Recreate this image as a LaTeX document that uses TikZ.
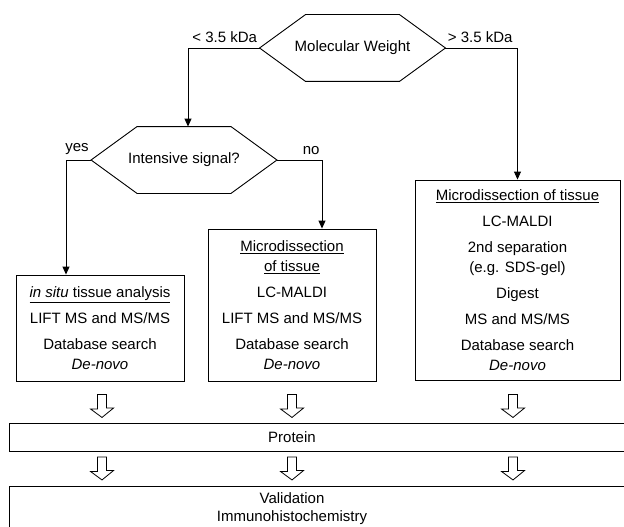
\documentclass[tikz,border=0pt]{standalone}
\usepackage{fontspec}
\setmainfont{Liberation Sans}
\usepackage{tikz}
\usetikzlibrary{arrows.meta,positioning}

\begin{document}
\begin{tikzpicture}[
      x=1pt, y=-1pt,
      font=\fontsize{15}{20}\selectfont,
      line width=0.9pt,
      >={Triangle[length=8pt,width=7pt]},
      hexa/.style={minimum width=185pt, minimum height=66pt, inner sep=0pt},
      box/.style={draw, align=center, inner sep=0pt},
      lbl/.style={inner xsep=2pt, inner ysep=5pt},
      hollow/.style={minimum width=23pt, minimum height=22pt, inner sep=0pt}
    ]
    \useasboundingbox (0,0) rectangle (624,527);

    % decisions
    \node[hexa] (mw) at (352.5,48) {Molecular Weight};
    \node[hexa] (sig) at (184,160) {Intensive signal?};
    \foreach \n in {mw,sig}
      \draw (\n.west) -- ([xshift=46pt]\n.north west) -- ([xshift=-46pt]\n.north east)
        -- (\n.east) -- ([xshift=-46pt]\n.south east) -- ([xshift=46pt]\n.south west) -- cycle;

    % work flows
    \node[box, minimum width=168pt, minimum height=106pt] (insitu) at (100,328)
      {\underline{\textit{in situ} tissue analysis}\\[6pt]
       LIFT MS and MS/MS\\[6pt]
       Database search\\\textit{De-novo}};
    \node[box, minimum width=168pt, minimum height=152pt] (micro) at (292,305)
      {\underline{Microdissection}\\\underline{of tissue}\\[6pt]
       LC-MALDI\\[6pt]
       LIFT MS and MS/MS\\[6pt]
       Database search\\\textit{De-novo}};
    \node[box, minimum width=205pt, minimum height=200pt] (sep) at (517.5,280)
      {\underline{Microdissection of tissue}\\[6pt]
       LC-MALDI\\[6pt]
       2nd separation\\(e.g. SDS-gel)\\[6pt]
       Digest\\[6pt]
       MS and MS/MS\\[6pt]
       Database search\\\textit{De-novo}};

    % results
    \node[draw, anchor=north west, minimum width=640pt, minimum height=28pt] (protbox) at (9,423) {};
    \node (prot) at (292,437) {Protein};
    \node[draw, anchor=north west, minimum width=640pt, minimum height=60pt] (valbox) at (9,486) {};
    \node[align=center] (val) at (292,509) {Validation\\[-2pt]Immunohistochemistry};

    % hollow arrows
    \foreach \x/\n in {102/1,292/2,513/3} {
      \node[hollow] (up\n) at (\x,406) {};
      \node[hollow] (dn\n) at (\x,468.5) {};
    }
    \foreach \n in {up1,up2,up3,dn1,dn2,dn3}
      \draw[line width=0.8pt, line join=miter] ([xshift=-4.5pt]\n.north) -- ([xshift=4.5pt]\n.north)
        -- ++(0,13.5) -- ++(7,0) -- (\n.south) -- ++(-11.5,-8.5) -- ++(7,0) -- cycle;

    % connectors
    \draw[->] (mw.west) node[lbl, anchor=south east] {< 3.5 kDa} -| ([xshift=4pt]sig.north);
    \draw[->] (mw.east) node[lbl, anchor=south west] {> 3.5 kDa} -| (sep.north);
    \draw[->] (sig.west) node[lbl, anchor=south east] {yes} -| ([xshift=-34pt]insitu.north);
    \draw[->] (sig.east) -| node[lbl, pos=0.5, anchor=south east] {no} ([xshift=30pt]micro.north);
  \end{tikzpicture}
\end{document}
